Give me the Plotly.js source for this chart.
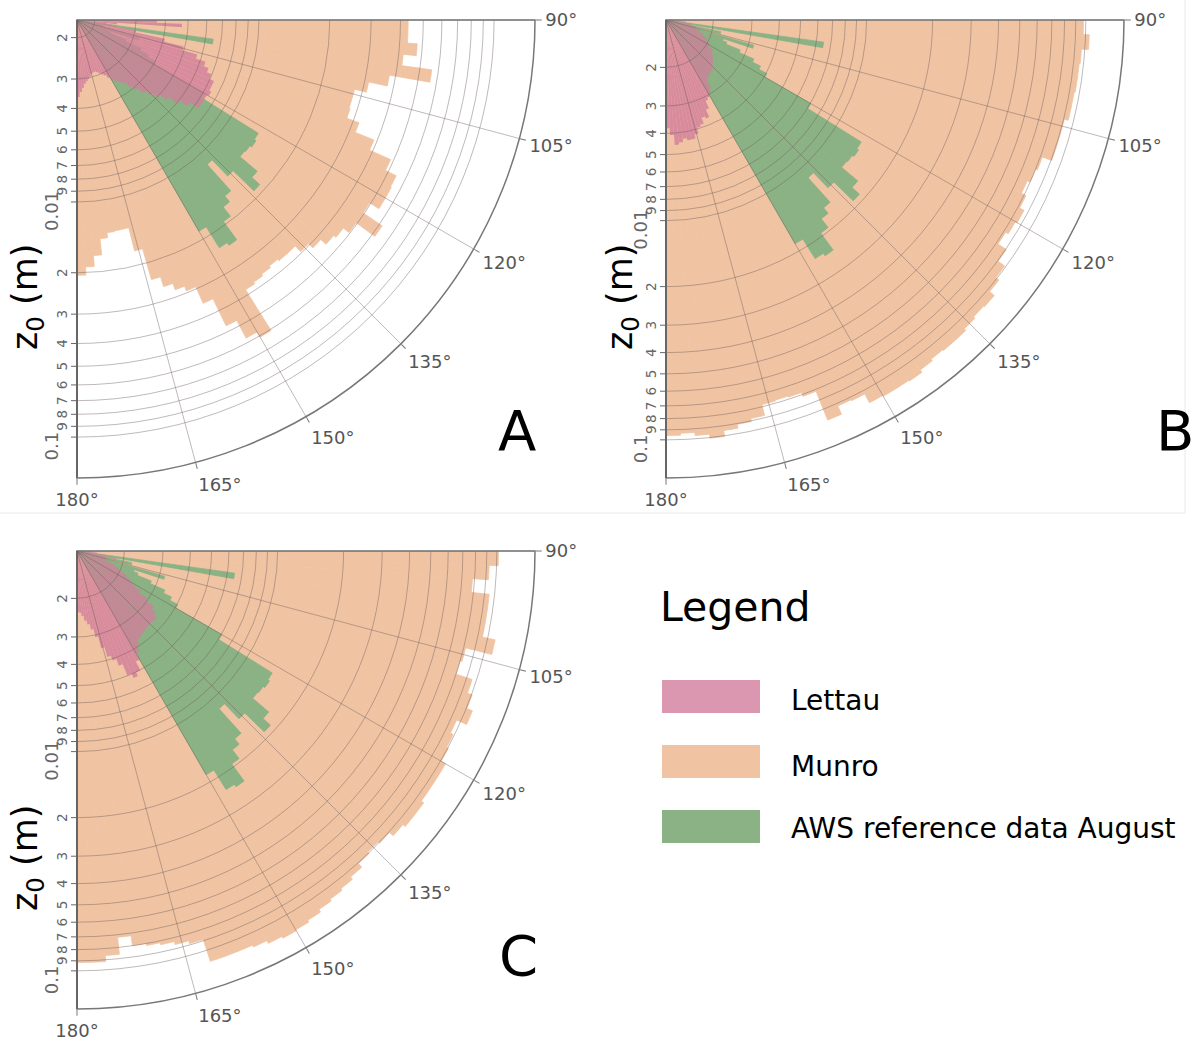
<!DOCTYPE html>
<html>
<head>
<meta charset="utf-8">
<script src="https://cdn.plot.ly/plotly-3.0.1.min.js"></script>
<style>
  html, body { margin: 0; padding: 0; background: #ffffff; }
  #chart { width: 1196px; height: 1041px; }
</style>
</head>
<body>
<div id="chart"></div>
<script>
// Wind direction bin centres (degrees), 2° bins from 90° to 180°
const direction = [91, 93, 95, 97, 99, 101, 103, 105, 107, 109, 111, 113, 115, 117, 119,
                   121, 123, 125, 127, 129, 131, 133, 135, 137, 139, 141, 143, 145, 147, 149,
                   151, 153, 155, 157, 159, 161, 163, 165, 167, 169, 171, 173, 175, 177, 179];

// Roughness length z0 (m) per direction bin
const lettauA = [0.00368, 0.00471, 0.00249, 0.00226, 0.00249, 0.00303, 0.00406, 0.00494, 0.00573, 0.00632,
                 0.00663, 0.00697, 0.00731, 0.00731, 0.00746, 0.00731, 0.00731, 0.00731, 0.00663, 0.00601,
                 0.00545, 0.00503, 0.00471, 0.00440, 0.00414, 0.00391, 0.00368, 0.00354, 0.00344, 0.00334,
                 0.00321, 0.00309, 0.00303, 0.00297, 0.00291, 0.00288, 0.00288, 0.00291, 0.00297, 0.00303,
                 0.00309, 0.00315, 0.00328, 0.00341, 0.00358];
const munroA = [0.0431, 0.0431, 0.0475, 0.0418, 0.0562, 0.0376, 0.0312, 0.0277, 0.0277, 0.0280,
                0.0318, 0.0387, 0.0485, 0.0545, 0.0550, 0.0550, 0.0494, 0.0619, 0.0494, 0.0461,
                0.0448, 0.0418, 0.0394, 0.0365, 0.0365, 0.0358, 0.0365, 0.0372, 0.0379, 0.0607,
                0.0573, 0.0471, 0.0351, 0.0294, 0.0280, 0.0262, 0.0237, 0.0173, 0.0137, 0.0137,
                0.0138, 0.0145, 0.0170, 0.0189, 0.0205];

const lettauB = [null, null, 0.00150, 0.00150, 0.00158, 0.00158, 0.00167, 0.00167, 0.00176, 0.00176,
                 0.00185, 0.00185, 0.00195, 0.00195, 0.00206, 0.00206, 0.00217, 0.00217, 0.00224, 0.00229,
                 0.00233, 0.00238, 0.00243, 0.00249, 0.00249, 0.00254, 0.00254, 0.00259, 0.00282, 0.00297,
                 0.00307, 0.00313, 0.00341, 0.00371, 0.00363, 0.00387, 0.00395, 0.00420, 0.00439, 0.00439,
                 0.00429, 0.00443, 0.00453, 0.00407, 0.00379];
const munroB = [0.0975, 0.1039, 0.0965, 0.0955, 0.0955, 0.0945, 0.0945, 0.0906, 0.0906, 0.0906,
                0.0816, 0.0799, 0.0774, 0.0816, 0.0860, 0.0842, 0.0816, 0.0906, 0.0986, 0.1028,
                0.1095, 0.1083, 0.1106, 0.1130, 0.1130, 0.1118, 0.1142, 0.1178, 0.1166, 0.1166,
                0.1154, 0.1039, 0.1028, 0.1130, 0.0816, 0.0782, 0.0774, 0.0782, 0.0878, 0.0906,
                0.0945, 0.1007, 0.0965, 0.0935, 0.0955];

const lettauC = [0.00142, 0.00142, 0.00150, 0.00150, 0.00167, 0.00185, 0.00167, 0.00167, 0.00167, 0.00176,
                 0.00185, 0.00195, 0.00206, 0.00217, 0.00229, 0.00241, 0.00268, 0.00297, 0.00330, 0.00348,
                 0.00363, 0.00359, 0.00359, 0.00359, 0.00363, 0.00367, 0.00371, 0.00375, 0.00395, 0.00420,
                 0.00453, 0.00503, 0.00524, 0.00498, 0.00439, 0.00407, 0.00387, 0.00348, 0.00307, 0.00282,
                 0.00265, 0.00254, 0.00241, 0.00233, 0.00231];
const munroC = [0.1017, 0.0925, 0.0782, 0.0945, 0.0945, 0.0945, 0.1083, 0.0816, 0.0799, 0.0955,
                0.1007, 0.1072, 0.0955, 0.0986, 0.1007, 0.1061, 0.1061, 0.1061, 0.1095, 0.1095,
                0.1061, 0.1007, 0.0986, 0.1007, 0.1061, 0.1095, 0.1118, 0.1142, 0.1178, 0.1203,
                0.1216, 0.1191, 0.1154, 0.1130, 0.1130, 0.1130, 0.0887, 0.0860, 0.0833, 0.0816,
                0.0799, 0.0719, 0.0860, 0.0916, 0.0916];

// AWS reference data, August (shared by all three panels)
const awsAugust = [null, null, null, null, 0.00647, null, 0.00219, null, 0.00317, 0.00229,
                   0.00240, 0.00282, 0.00334, 0.00367, 0.00403, 0.00704, 0.01365, 0.01394, 0.01365, 0.01351,
                   0.01685, 0.01871, 0.01409, 0.01130, 0.01598, 0.01720, 0.01931, 0.02409, 0.02334, 0.01833,
                   null, null, null, null, null, null, null, null, null, null,
                   null, null, null, null, null];

const seriesNames = ['Lettau', 'Munro', 'AWS reference data August'];
const panelLabels = ['A', 'B', 'C'];
const legendTitle = 'Legend';
const radialTitle = 'z<sub>0</sub> (m)';

// ---- styling ----
const W = 1196, H = 1041;
const FONT = 'DejaVu Sans, Verdana, sans-serif';
const COLORS = { Lettau: 'rgb(210,125,155)', Munro: 'rgb(240,196,163)', AWS: 'rgb(138,178,132)' };
const OPACITY = { Lettau: 0.8, Munro: 1, AWS: 1 };
const GRID = 'rgba(105,88,88,0.42)';
const FRAME = '#e8e8e8';

const px = (x) => x / W;
const py = (y) => 1 - y / H;

// polar panels: centre (top-left corner of the quarter) and radius in pixels
const R = 458;
const panels = [
  { id: 'polar',  top: 'polar4', cx: 77,  cy: 20,  range: [-2.774, -0.826], lettau: lettauA, munro: munroA, label: [517, 430], title: [27, 297] },
  { id: 'polar2', top: 'polar5', cx: 666, cy: 20,  range: [-2.915, -0.826], lettau: lettauB, munro: munroB, label: [1175, 430], title: [622, 297] },
  { id: 'polar3', top: 'polar6', cx: 77,  cy: 551, range: [-2.915, -0.826], lettau: lettauC, munro: munroC, label: [518, 955], title: [27, 858] }
];

function bars(name, key, values, subplot) {
  const opaque = OPACITY[key] === 1;
  return {
    type: 'barpolar', name: name, subplot: subplot,
    r: values, theta: direction, width: 2,
    marker: {
      color: COLORS[key], opacity: OPACITY[key],
      // an opaque fill gets a hairline in its own colour to close the seams between bins
      line: opaque ? { color: COLORS[key], width: 0.8 } : { width: 0 }
    },
    showlegend: false, hoverinfo: 'skip'
  };
}

function angular(show) {
  return {
    rotation: 90, direction: 'clockwise', thetaunit: 'degrees',
    tick0: 0, dtick: 15,
    ticks: show ? 'outside' : '', ticklen: 6, tickcolor: '#777',
    showticklabels: show,
    showline: show, linecolor: '#777', linewidth: 1.5,
    showgrid: show, gridcolor: GRID, gridwidth: 1,
    tickfont: { family: FONT, size: 18, color: '#555' }
  };
}
function radial(range, show) {
  return {
    type: 'log', range: range, dtick: 'D1',
    angle: -90, side: 'clockwise',
    ticks: show ? 'outside' : '', ticklen: 5, tickcolor: '#666',
    showticklabels: show,
    showline: show, linecolor: '#666', linewidth: 2,
    showgrid: show, gridcolor: GRID, gridwidth: 1,
    tickfont: { family: FONT, size: 18, color: '#666' }
  };
}
function polarLayout(p, front) {
  return {
    domain: { x: [px(p.cx), px(p.cx + R)], y: [py(p.cy + R), py(p.cy)] },
    sector: [-90, 0],
    bgcolor: front ? 'rgba(0,0,0,0)' : '#ffffff',
    barmode: 'overlay',
    angularaxis: angular(front),
    radialaxis: radial(p.range, front)
  };
}

const traces = [];
const layout = {
  width: W, height: H,
  margin: { l: 0, r: 0, t: 0, b: 0 },
  paper_bgcolor: '#ffffff',
  showlegend: false,
  font: { family: FONT, color: '#000' },
  annotations: [],
  shapes: [
    // light frames of the two upper panels
    { type: 'line', xref: 'paper', yref: 'paper', x0: 0, x1: px(1185), y0: py(513), y1: py(513), line: { color: FRAME, width: 1 }, layer: 'below' },
    { type: 'line', xref: 'paper', yref: 'paper', x0: px(1185), x1: px(1185), y0: py(513), y1: 1, line: { color: FRAME, width: 1 }, layer: 'below' }
  ]
};

panels.forEach((p, i) => {
  traces.push(bars(seriesNames[1], 'Munro', p.munro, p.id));
  traces.push(bars(seriesNames[2], 'AWS', awsAugust, p.id));
  traces.push(bars(seriesNames[0], 'Lettau', p.lettau, p.id));
  layout[p.id] = polarLayout(p, false);
  layout.annotations.push({
    xref: 'paper', yref: 'paper', x: px(p.label[0]), y: py(p.label[1]),
    xanchor: 'center', yanchor: 'middle', showarrow: false,
    text: panelLabels[i], font: { family: FONT, size: 56, color: '#000' }
  });
  layout.annotations.push({
    xref: 'paper', yref: 'paper', x: px(p.title[0]), y: py(p.title[1]),
    xanchor: 'center', yanchor: 'middle', showarrow: false, textangle: -90,
    text: radialTitle, font: { family: FONT, size: 35, color: '#000' }
  });
});
// transparent twin of each panel carrying grid, axis lines and tick labels above the bars
panels.forEach((p) => {
  traces.push({ type: 'barpolar', subplot: p.top, r: [], theta: [], showlegend: false, hoverinfo: 'skip' });
  layout[p.top] = polarLayout(p, true);
});

// legend block
layout.annotations.push({
  xref: 'paper', yref: 'paper', x: px(658), y: py(607),
  xanchor: 'left', yanchor: 'middle', showarrow: false,
  text: legendTitle, font: { family: FONT, size: 41, color: '#000' }
});
const legendRows = [
  { key: 'Lettau', name: seriesNames[0], top: 680, text: 700 },
  { key: 'Munro',  name: seriesNames[1], top: 745, text: 766 },
  { key: 'AWS',    name: seriesNames[2], top: 810, text: 828 }
];
legendRows.forEach((row) => {
  layout.shapes.push({
    type: 'rect', xref: 'paper', yref: 'paper',
    x0: px(662), x1: px(760), y0: py(row.top + 33), y1: py(row.top),
    fillcolor: COLORS[row.key], opacity: OPACITY[row.key], line: { width: 0 }
  });
  layout.annotations.push({
    xref: 'paper', yref: 'paper', x: px(789), y: py(row.text),
    xanchor: 'left', yanchor: 'middle', showarrow: false,
    text: row.name, font: { family: FONT, size: 28, color: '#000' }
  });
});

Plotly.newPlot('chart', traces, layout, { staticPlot: true, displayModeBar: false });
</script>
</body>
</html>
